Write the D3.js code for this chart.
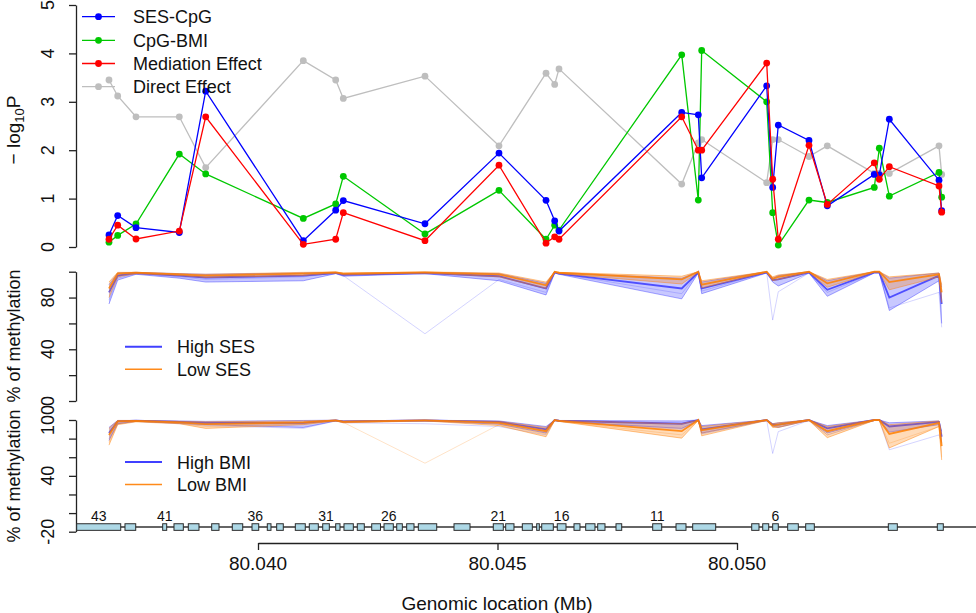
<!DOCTYPE html>
<html><head><meta charset="utf-8">
<script src="https://cdn.jsdelivr.net/npm/d3@7"></script>
<style>
body{margin:0;background:#fff}
svg{display:block}
text{font-family:"Liberation Sans",Arial,sans-serif;fill:#111}
</style>
</head><body>
<svg id="c" width="976" height="613"></svg>
<script>
// ---------- DATA ----------
const cpgPos = [80.036889, 80.037071, 80.037453, 80.038357, 80.038908, 80.040946, 80.041622, 80.041781,
  80.043486, 80.045031, 80.046013, 80.046194, 80.046284, 80.048846, 80.049192, 80.049263, 80.050620,
  80.050745, 80.050862, 80.051503, 80.051885, 80.052866, 80.052971, 80.053180, 80.054217, 80.054273];

const sesCpg    = [0.25,0.65,0.40,0.30,3.22,0.13,0.76,0.96,0.48,1.94,0.965,0.54,0.33,2.78,2.73,1.43,3.33,1.23,2.52,2.20,0.85,1.50,1.49,2.64,1.38,0.75];
const cpgBmi    = [0.10,0.24,0.475,1.92,1.51,0.59,0.89,1.46,0.27,1.17,0.16,0.45,0.35,3.97,0.97,4.06,3.00,0.71,0.04,0.97,0.92,1.23,2.04,1.05,1.54,1.03];
const mediation = [0.16,0.45,0.165,0.33,2.69,0.055,0.16,0.71,0.13,1.69,0.08,0.21,0.16,2.69,2.00,2.00,3.80,1.40,0.16,2.10,0.88,1.74,1.40,1.66,1.26,0.72];
const direct    = [3.45,3.12,2.69,2.69,1.64,3.85,3.45,3.07,3.53,2.09,3.59,3.36,3.68,1.30,2.15,2.22,1.33,2.22,2.22,1.87,2.09,1.52,1.52,1.52,2.09,1.50];

const topSeriesNames = ["SES-CpG","CpG-BMI","Mediation Effect","Direct Effect"];
const topTicks = [0,1,2,3,4,5];

// methylation profiles (% methylation), High / Low SES
const hiSesTop = [90,99,99.5,98.5,98,99,99.5,98.5,99.5,98.5,91,100,99,95,100,92,100,95,97,100,93,100,100,95,99,88];
const hiSesMid = [84,97,99,97,95.5,97,99,97.5,99,96.5,87,99.5,98.5,87,99.5,87,99.5,93.5,94,99.5,86,99.5,99.5,80,97,75];
const hiSesLow = [75,93.5,98,95,92,93,98.5,96.5,98.5,93,82,99,98,79,99,83,99,92,89,99,81,99,99,70,93,60];
const hiSesOut = [78,95,98.5,96,94,96,99,97,52,94,84,99,98.5,83,99.5,85,99.5,62.6,84.5,99,84,99,99,72,84,57];
const loSesTop = [92,99.5,99.5,98.5,98,99.5,99.8,99,99.8,99,92,100,99.5,96.5,100,93,100,96,97.5,100,94,100,100,96,99,90];
const loSesMid = [87,98.5,99.3,98,97,98.5,99.5,98.5,99.5,98,89.5,100,99.2,94,100,90,100,94.5,96,100,91,100,100,92,98,84];
const loSesLow = [80,96,98.5,97,95.5,97,99,97.5,99,96,87,99.5,98.5,90.5,99.5,87.5,99.5,93,94,99.5,88,99.5,99.5,86,96,76];

// High / Low BMI
const hiBmiTop = [92,99.5,99.5,99,98.5,99.5,99.8,99,99.8,99,93,100,99.5,99,100,94,100,96,97,100,94,100,100,97,99,88];
const hiBmiMid = [86,98.5,99.3,98,97,97,99.5,98.5,99.5,98,90,100,99.2,96,100,90,100,95,95,100,91,100,100,93,98,82];
const hiBmiLow = [78,96,98.5,96.5,95,92,99,97.5,99,95.5,86,99.5,98.5,91,99.5,86,99.5,93.5,92,99.5,86,99.5,99.5,87,95,76];
const hiBmiOut = [80,96,98.5,96,94,91,99,97,96,93,84,99.5,98.5,90,99.5,85,99.5,64,87.5,99.5,84,99.5,99.5,68,84,75];
const loBmiTop = [91,99.5,99.5,98.5,98,99,99.8,99,99.8,98.5,92,100,99.5,96,100,93,100,96,97,100,93,100,100,95,99,85];
const loBmiMid = [84,98.5,99,97.5,95.5,97.5,99.5,98,99.5,97,88,100,99,88,100,89,100,94,95,100,88,100,100,85,97,72];
const loBmiLow = [73,95,98,96,91,95,99,97,99,94,82,99.5,98.5,80.5,99.5,83,99.5,92,92,99.5,81,99.5,99.5,70,93,57];
const loBmiOut = [76,96,98.5,96.5,93,96,99,97.5,53.6,95,85,99.5,98.5,84,99.5,86,99.5,93,93,99.5,84,99.5,99.5,75,93,60];

const midTicks = [0,20,40,60,80,100];
const midLabels = [0,40,80];
const botTicks = [-20,0,20,40,60,80,100];
const botLabels = [-20,40,100];

// exons (Mb start, end), numbered 43 .. 2 from left
const exonStart = [80.036215,80.037223,80.038010,80.038246,80.038545,80.039033,80.039463,80.039875,80.040194,80.040390,
 80.040779,80.041071,80.041351,80.041622,80.041795,80.042073,80.042374,80.042631,80.042896,80.043104,80.043347,
 80.044092,80.044912,80.045171,80.045518,80.045818,80.045923,80.046248,80.046597,80.046841,80.047092,80.047474,
 80.048240,80.048727,80.049075,80.050307,80.050537,80.050745,80.051058,80.051434,80.053159,80.054182];
const exonEnd = [80.037134,80.037447,80.038094,80.038441,80.038768,80.039186,80.039681,80.040015,80.040271,80.040528,
 80.040987,80.041259,80.041489,80.041712,80.041990,80.042219,80.042557,80.042825,80.043013,80.043257,80.043731,
 80.044426,80.045121,80.045344,80.045727,80.045873,80.046165,80.046430,80.046722,80.047035,80.047244,80.047593,
 80.048428,80.048935,80.049555,80.050459,80.050662,80.050862,80.051280,80.051614,80.053347,80.054307];
const exonLabelNums = [43,41,36,31,26,21,16,11,6];

const xTicks = [80.040,80.045,80.050];

// ---------- DRAW ----------
const svg = d3.select("#c");
const x = d3.scaleLinear().domain([80.040,80.050]).range([258,737]);
const yTop = d3.scaleLinear().domain([0,5]).range([247,5]);
const yMid = d3.scaleLinear().domain([0,100]).range([401,271.7]);
const yBot = d3.scaleLinear().domain([-20,100]).range([531.7,420]);
const axisX0 = 76;
const axisCol = "#222";

function leftAxis(scale, ticks, labels, fs){
  const g = svg.append("g").attr("transform",`translate(${axisX0},0)`)
    .call(d3.axisLeft(scale).tickValues(ticks).tickSize(7).tickSizeOuter(0).tickFormat(""));
  g.select(".domain").attr("stroke",axisCol).attr("stroke-width",1.3);
  g.selectAll(".tick line").attr("stroke",axisCol).attr("stroke-width",1.3);
  labels.forEach(v=>{
    svg.append("text").attr("transform",`translate(54,${scale(v)}) rotate(-90)`)
      .attr("text-anchor","middle").attr("font-size",fs).text(v < 0 ? "-" + Math.abs(v) : v);
  });
}

// top panel
leftAxis(yTop, topTicks, topTicks, 18);
const topSeries = [
  {v:direct, c:"#bebebe"},
  {v:cpgBmi, c:"#00c800"},
  {v:sesCpg, c:"#0000ff"},
  {v:mediation, c:"#ff0000"}
];
const lineTop = d3.line().x((d,i)=>x(cpgPos[i])).y(d=>yTop(d));
topSeries.forEach(s=>{
  svg.append("path").attr("d",lineTop(s.v)).attr("fill","none").attr("stroke",s.c).attr("stroke-width",1.3);
  svg.append("g").selectAll("circle").data(s.v).join("circle")
    .attr("cx",(d,i)=>x(cpgPos[i])).attr("cy",d=>yTop(d)).attr("r",3.4).attr("fill",s.c);
});
// top legend
const legCols = ["#0000ff","#00c800","#ff0000","#bebebe"];
const legY = [16.7,40.3,63.5,86.7];
topSeriesNames.forEach((n,i)=>{
  svg.append("line").attr("x1",82).attr("x2",115).attr("y1",legY[i]).attr("y2",legY[i]).attr("stroke",legCols[i]).attr("stroke-width",1.3);
  svg.append("circle").attr("cx",98.5).attr("cy",legY[i]).attr("r",3.4).attr("fill",legCols[i]);
  svg.append("text").attr("x",133).attr("y",legY[i]+6.5).attr("font-size",18).text(n);
});
// y label top
const yl = svg.append("text").attr("transform","translate(20,130) rotate(-90)").attr("text-anchor","middle").attr("font-size",19);
yl.append("tspan").text("\u2212 log");
yl.append("tspan").attr("font-size",13).attr("dy",4).text("10");
yl.append("tspan").attr("dy",-4).text("P");

// methylation panels
function methPanel(y, groups){
  const area = d3.area().x((d,i)=>x(cpgPos[i])).y0(d=>y(d[0])).y1(d=>y(d[1]));
  const ln = d3.line().x((d,i)=>x(cpgPos[i])).y(d=>y(d));
  groups.forEach(g=>{
    if(g.out){
      svg.append("path").attr("d",ln(g.out)).attr("fill","none").attr("stroke",g.c).attr("stroke-opacity",0.22).attr("stroke-width",1);
    }
    svg.append("path").attr("d",area(g.top.map((t,i)=>[g.low[i],t]))).attr("fill",g.c).attr("fill-opacity",0.28);
    [g.low, g.mid, g.top].forEach((arr,k)=>{
      svg.append("path").attr("d",ln(arr)).attr("fill","none").attr("stroke",g.c)
        .attr("stroke-opacity",k===1?0.85:0.45).attr("stroke-width",k===1?1.8:1);
    });
  });
}
leftAxis(yMid, midTicks, midLabels, 18);
methPanel(yMid, [
  {c:"#3a3aff", top:hiSesTop, mid:hiSesMid, low:hiSesLow, out:hiSesOut},
  {c:"#ff7f00", top:loSesTop, mid:loSesMid, low:loSesLow}
]);
leftAxis(yBot, botTicks, botLabels, 18);
methPanel(yBot, [
  {c:"#3a3aff", top:hiBmiTop, mid:hiBmiMid, low:hiBmiLow, out:hiBmiOut},
  {c:"#ff7f00", top:loBmiTop, mid:loBmiMid, low:loBmiLow, out:loBmiOut}
]);

function methLegend(y0, names){
  const cols = ["#4040ff","#ff8a1a"];
  names.forEach((n,i)=>{
    const yy = y0 + i*22.5;
    svg.append("line").attr("x1",125).attr("x2",162).attr("y1",yy).attr("y2",yy).attr("stroke",cols[i]).attr("stroke-width",i===0?2:1.5);
    svg.append("text").attr("x",177).attr("y",yy+6.5).attr("font-size",18).text(n);
  });
}
methLegend(346.7, ["High SES","Low SES"]);
methLegend(462, ["High BMI","Low BMI"]);

// y labels for methylation panels
[[336,"% of methylation"],[476,"% of methylation"]].forEach(([cy,t])=>{
  svg.append("text").attr("transform",`translate(20,${cy}) rotate(-90)`).attr("text-anchor","middle").attr("font-size",18).text(t);
});

// gene track
const geneY = yBot(-15);
svg.append("line").attr("x1",axisX0).attr("x2",976).attr("y1",geneY).attr("y2",geneY).attr("stroke","#333").attr("stroke-width",1.6);
svg.append("g").selectAll("rect").data(exonStart).join("rect")
  .attr("x",d=>Math.max(axisX0, x(d))).attr("width",(d,i)=>x(exonEnd[i])-Math.max(axisX0,x(d)))
  .attr("y",geneY-3.3).attr("height",6.6)
  .attr("fill","#add8e6").attr("stroke","#2b2b2b").attr("stroke-width",1);
exonLabelNums.forEach(n=>{
  const i = 43 - n;
  const cx = (Math.max(axisX0,x(exonStart[i])) + x(exonEnd[i]))/2;
  svg.append("text").attr("x",cx).attr("y",geneY-6).attr("text-anchor","middle").attr("font-size",14).text(n);
});

// x axis
const gx = svg.append("g").attr("transform","translate(0,543)")
  .call(d3.axisBottom(x).tickValues(xTicks).tickSize(7).tickSizeOuter(0).tickFormat(""));
gx.select(".domain").attr("stroke",axisCol).attr("stroke-width",1.3);
gx.selectAll(".tick line").attr("stroke",axisCol).attr("stroke-width",1.3);
xTicks.forEach(v=>{
  svg.append("text").attr("x",x(v)).attr("y",570).attr("text-anchor","middle")
    .attr("font-size",19).style("font-family","'Liberation Sans Narrow','Arial Narrow','Liberation Sans',sans-serif")
    .text(d3.format(".3f")(v));
});
svg.append("text").attr("x",497).attr("y",610).attr("text-anchor","middle").attr("font-size",19)
  .style("font-family","'Liberation Sans Narrow','Arial Narrow','Liberation Sans',sans-serif")
  .text("Genomic location (Mb)");
</script>
</body></html>
